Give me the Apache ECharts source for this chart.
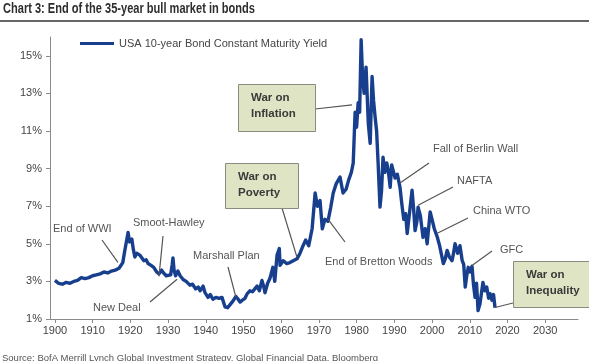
<!DOCTYPE html>
<html>
<head>
<meta charset="utf-8">
<style>html,body{margin:0;padding:0;background:#fff;}#c{width:589px;height:361px;}</style>
<script src="https://cdn.jsdelivr.net/npm/echarts@6/dist/echarts.min.js"></script>
</head>
<body>
<div id="c"></div>
<script>
// ---- data ----
const years = [1900,1901,1902,1903,1904,1905,1906,1907,1908,1909,1910,1911,1912,1913,1914,1915,1916,1917,1917.5,1918,1918.5,1919,1919.4,1919.8,1920.4,1920.8,1921.2,1921.7,1922.5,1923,1923.6,1924.2,1924.7,1925.5,1926.2,1927,1927.6,1928.3,1928.8,1929.5,1930,1930.7,1931.1,1931.3,1931.6,1932,1932.6,1933.2,1934,1934.8,1935.8,1936.5,1937.3,1938,1938.5,1939.3,1939.8,1940.6,1941.2,1941.9,1942.7,1943.5,1944.3,1945.1,1945.8,1946.4,1947.2,1948,1948.6,1949.1,1949.7,1950.4,1951,1951.7,1952.4,1953,1953.6,1954.2,1954.9,1955.4,1955.7,1956.4,1957,1957.8,1958.3,1958.9,1959.5,1959.7,1960.5,1961.5,1962.3,1963.2,1964.2,1965,1965.8,1966.5,1967.3,1968.2,1969,1969.6,1970.3,1970.9,1971.6,1972.4,1973.1,1973.8,1974.6,1975.6,1976.4,1977.2,1977.9,1978.6,1979.1,1979.6,1980,1980.4,1980.8,1981.2,1981.6,1982,1982.5,1983.1,1983.6,1984.1,1984.5,1984.9,1985.3,1985.7,1986.2,1986.6,1987,1987.5,1988,1988.4,1988.9,1989.3,1989.7,1990.2,1990.8,1991.5,1992,1992.5,1993,1993.4,1994,1994.7,1995.1,1995.5,1996,1996.3,1996.9,1997.6,1998.2,1998.7,1999.5,2000,2000.6,2001,2001.4,2002,2002.5,2003,2003.5,2004,2004.6,2005.3,2005.7,2006.1,2006.8,2007.4,2008,2008.4,2008.8,2009.2,2009.6,2010.1,2010.6,2011,2011.4,2011.8,2012.2,2012.7,2013.1,2013.5,2014,2014.5,2015,2015.4,2015.9,2016.3,2016.7];
const yields = [3.05,2.9,2.85,2.95,2.9,3.0,3.05,3.2,3.15,3.2,3.3,3.35,3.4,3.5,3.45,3.55,3.6,3.7,3.65,4.0,4.6,4.5,5.6,5.1,5.25,4.7,4.3,4.5,4.4,4.35,4.1,4.15,3.95,3.85,3.75,3.5,3.4,3.6,3.45,3.3,3.2,3.35,3.9,4.25,3.6,3.3,3.55,3.3,3.1,3.0,2.8,2.85,2.6,2.7,2.5,2.75,2.4,2.15,2.3,2.05,2.15,2.1,2.15,1.65,1.6,1.75,1.95,2.2,2.05,1.9,2.0,2.1,2.35,2.5,2.45,2.6,2.75,2.5,3.05,2.7,2.4,2.9,3.15,3.75,3.0,4.4,4.75,3.85,4.1,3.95,4.0,4.1,4.2,4.5,4.9,5.2,4.9,5.8,7.7,7.0,7.3,5.8,6.3,6.2,6.9,7.7,8.2,8.55,7.7,7.9,8.4,8.8,9.3,12.0,11.2,12.5,12.0,15.85,13.8,13.0,14.4,11.4,10.35,13.9,12.6,11.75,11.0,9.3,6.95,7.8,9.6,8.8,9.3,8.9,8.0,9.2,9.1,8.5,8.7,8.0,7.1,6.3,6.6,5.55,6.6,7.85,6.9,5.7,6.2,6.95,6.5,5.35,5.8,5.0,6.7,6.3,5.8,5.9,5.35,4.9,5.0,3.95,4.2,4.65,4.3,4.1,4.5,5.0,4.5,4.9,4.1,3.9,2.7,3.3,3.75,3.5,3.8,2.8,2.15,2.9,1.45,1.8,1.7,2.95,2.5,2.7,2.1,2.35,2.0,2.3,1.6];
const xTickYears = [1900,1910,1920,1930,1940,1950,1960,1970,1980,1990,2000,2010,2020,2030];
const yTickValues = [1,3,5,7,9,11,13,15];
const seriesName = 'USA 10-year Bond Constant Maturity Yield';
const titleText = 'Chart 3: End of the 35-year bull market in bonds';
const sourceText = 'Source: BofA Merrill Lynch Global Investment Strategy, Global Financial Data, Bloomberg';

// annotations: label text, label position (px), leader start (px), anchor on chart (year, yield)
const notes = [
  {t:'End of WWI', x:53, y:229, from:[102,240], at:[1916.7,4.01]},
  {t:'Smoot-Hawley', x:133, y:223, from:[163,236], at:[1927.6,3.27]},
  {t:'New Deal', x:93, y:308, from:[150,302], at:[1932.4,3.11]},
  {t:'Marshall Plan', x:193, y:256, from:[228,267], at:[1948.0,2.15]},
  {t:'End of Bretton Woods', x:325, y:262, from:[345,242], at:[1972.4,6.31]},
  {t:'Fall of Berlin Wall', x:433, y:149, from:[429,163], at:[1991.5,8.23]},
  {t:'NAFTA', x:457, y:181, from:[453,187], at:[1996.3,7.05]},
  {t:'China WTO', x:473, y:211, from:[468,218], at:[2001.4,5.56]},
  {t:'GFC', x:500, y:250, from:[492,251], at:[2010.6,3.85]}
];
const boxes = [
  {l1:'War on', l2:'Inflation', x:238, y:84, w:77, h:47, from:[315,109], at:[1978.8,12.39]},
  {l1:'War on', l2:'Poverty', x:225, y:163, w:73, h:45, from:[282,208], at:[1964.2,4.28]},
  {l1:'War on', l2:'Inequality', x:513, y:261, w:76, h:46, from:[513,303], at:[2016.7,1.61]}
];

const chart = echarts.init(document.getElementById('c'), null, {renderer:'canvas'});
const FONT = 'Liberation Sans, Arial, sans-serif';
chart.setOption({
  animation:false,
  backgroundColor:'#fff',
  grid:{left:50, right:11, top:37, bottom:42},
  legend:{
    data:[seriesName], left:80, top:38, padding:0, icon:'rect', itemWidth:34, itemHeight:3, itemGap:5,
    textStyle:{fontFamily:FONT, fontSize:11, color:'#444'}
  },
  xAxis:{
    type:'value', min:1898.7, max:2038.7,
    axisLine:{show:true, lineStyle:{color:'#8a8a8a', width:1}},
    axisTick:{show:true, length:4, customValues:xTickYears, lineStyle:{color:'#8a8a8a'}},
    axisLabel:{customValues:xTickYears, formatter:v=>String(Math.round(v)), margin:6, fontFamily:FONT, fontSize:11, color:'#444'},
    splitLine:{show:false}
  },
  yAxis:{
    type:'value', min:1, max:16,
    axisLine:{show:true, lineStyle:{color:'#8a8a8a', width:1}},
    axisTick:{show:true, length:4, customValues:yTickValues, lineStyle:{color:'#8a8a8a'}},
    axisLabel:{customValues:yTickValues, formatter:v=>Math.round(v)+'%', margin:8, fontFamily:FONT, fontSize:11, color:'#444'},
    splitLine:{show:false}
  },
  series:[{
    name:seriesName, type:'line', showSymbol:false, symbol:'none',
    data: years.map((y,i)=>[y, yields[i]]),
    lineStyle:{color:'#173f8e', width:3.4, join:'round'},
    itemStyle:{color:'#173f8e'}
  }]
});

function px(p){ return chart.convertToPixel({gridIndex:0}, p); }
const g = [];
g.push({type:'text', x:3, y:2, scaleX:0.79, style:{text:titleText, font:'bold 14px "Liberation Sans", Arial, sans-serif', fill:'#2e2e2e'}});
g.push({type:'rect', shape:{x:0, y:20, width:589, height:2}, style:{fill:'#666'}});
g.push({type:'text', x:2, y:353, style:{text:sourceText, font:'9.5px "Liberation Sans", Arial, sans-serif', fill:'#555'}});
notes.forEach(n=>{
  const a = px(n.at);
  g.push({type:'line', shape:{x1:n.from[0], y1:n.from[1], x2:a[0], y2:a[1]}, style:{stroke:'#555', lineWidth:1.2}, z:5});
  g.push({type:'text', x:n.x, y:n.y, style:{text:n.t, font:'11px "Liberation Sans", Arial, sans-serif', fill:'#555', verticalAlign:'middle'}, z:6});
});
boxes.forEach(b=>{
  const a = px(b.at);
  g.push({type:'line', shape:{x1:b.from[0], y1:b.from[1], x2:a[0], y2:a[1]}, style:{stroke:'#555', lineWidth:1.2}, z:5});
  g.push({type:'rect', shape:{x:b.x+0.5, y:b.y+0.5, width:b.w, height:b.h}, style:{fill:'#dfe5c4', stroke:'#8a8a80', lineWidth:1}, z:6});
  g.push({type:'text', x:b.x+13, y:b.y+14, style:{text:b.l1, font:'bold 11.5px "Liberation Sans", Arial, sans-serif', fill:'#3a3a3a', verticalAlign:'middle'}, z:7});
  g.push({type:'text', x:b.x+13, y:b.y+30, style:{text:b.l2, font:'bold 11.5px "Liberation Sans", Arial, sans-serif', fill:'#3a3a3a', verticalAlign:'middle'}, z:7});
});
chart.setOption({graphic:g});
</script>
</body>
</html>
